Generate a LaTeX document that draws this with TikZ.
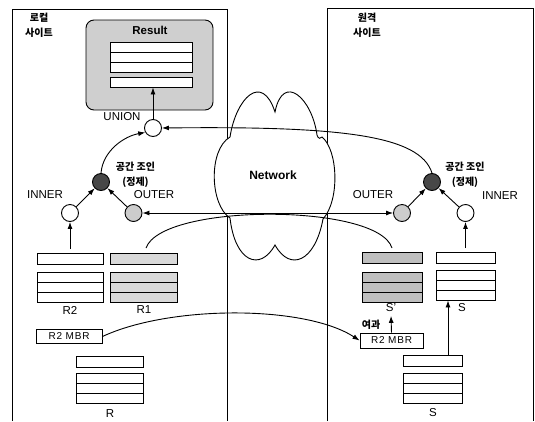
\documentclass[tikz,border=0pt]{standalone}
\usepackage{fontspec}
\setmainfont{Liberation Sans}
\newfontfamily\kr{Noto Sans CJK KR}
\usetikzlibrary{arrows.meta,calc}
\begin{document}
\begin{tikzpicture}[x=1pt,y=-1pt,line width=0.9pt,
  >={Latex[length=7pt,width=5pt]},
  every node/.style={font=\fontsize{11.5}{13}\selectfont},
  circ/.style={circle,draw,minimum size=17pt,inner sep=0pt,fill=white},
  darkc/.style={circ,fill=black!72},
  grayc/.style={circ,fill=gray!40},
  hdr/.style={draw,minimum height=11pt,inner sep=0pt,fill=white},
  blk/.style={draw,minimum height=30pt,inner sep=0pt,fill=white,
    path picture={
      \draw[line width=0.9pt]
        ($(path picture bounding box.north west)!1/3!(path picture bounding box.south west)$) --
        ($(path picture bounding box.north east)!1/3!(path picture bounding box.south east)$)
        ($(path picture bounding box.north west)!2/3!(path picture bounding box.south west)$) --
        ($(path picture bounding box.north east)!2/3!(path picture bounding box.south east)$);}},
  kor/.style={font=\kr\bfseries\fontsize{10}{15}\selectfont,align=center},
  mbr/.style={draw,fill=white,inner sep=0pt,minimum height=14pt,
    font=\fontsize{10}{12}\selectfont\addfontfeature{LetterSpace=8}},
  tlbl/.style={font=\fontsize{11.5}{13}\selectfont}
]
\useasboundingbox (0,0) rectangle (535,421);

% site frames
\draw (12,421) -- (12,9) -- (227,9) -- (227,421);
\draw (327,421) -- (327,8) -- (533,8) -- (533,421);
\node[kor] (ltitle) at (39,25) {로컬\\사이트};
\node[kor] (rtitle) at (367,25) {원격\\사이트};

% network cloud
\draw[fill=white] (230,137) .. controls (236,98) and (262,72) .. (275,112)
  .. controls (283,72) and (312,98) .. (317,135)
  .. controls (318,139) and (321,139) .. (322,137)
  .. controls (338,150) and (340,200) .. (323,219)
  .. controls (315,262) and (290,272) .. (275,245)
  .. controls (260,272) and (235,262) .. (230,218)
  .. controls (210,205) and (208,150) .. (230,137) -- cycle;
\node[font=\bfseries\fontsize{12}{14}\selectfont] (net) at (273,175) {Network};

% result box
\node[draw,rounded corners=8pt,fill=gray!38,minimum width=127pt,minimum height=90pt,inner sep=0pt] (resbox) at (149.5,65) {};
\node[font=\bfseries\fontsize{11.5}{13}\selectfont] (restitle) at (150,30) {Result};
\node[blk,minimum width=82pt] (res1) at (151,57) {};
\node[hdr,minimum width=82pt,minimum height=10pt] (res2) at (151,82) {};

% local circles
\node[circ] (union) at (153,128) {};
\node[darkc] (ljoin) at (101,182) {};
\node[circ] (linner) at (70,213) {};
\node[grayc] (louter) at (133.5,213) {};
\node (lunion) at (122,117) {UNION};
\node (linl) at (45,195) {INNER};
\node (loutl) at (154,195) {OUTER};
\node[kor] (ljl) at (135.5,175) {공간 조인\\(정제)};

% remote circles
\node[darkc] (rjoin) at (432,182) {};
\node[grayc] (router) at (402,213) {};
\node[circ] (rinner) at (465.5,213) {};
\node (routl) at (373,195) {OUTER};
\node (rinl) at (500,196) {INNER};
\node[kor] (rjl) at (465,175) {공간 조인\\(정제)};

% local tables
\node[hdr,minimum width=66pt] (r2h) at (70,258.5) {};
\node[blk,minimum width=66pt] (r2b) at (70,287) {};
\node[tlbl] (r2l) at (70,310) {R2};
\node[hdr,minimum width=67pt,fill=gray!30] (r1h) at (143.5,258.5) {};
\node[blk,minimum width=67pt,fill=gray!30] (r1b) at (143.5,287) {};
\node[tlbl] (r1l) at (144,310) {R1};
\node[mbr,minimum width=66pt] (lmbr) at (69,336.5) {R2 MBR};
\node[hdr,minimum width=67pt] (rh) at (109.5,362) {};
\node[blk,minimum width=67pt] (rb) at (109.5,388) {};
\node[tlbl] (rl) at (110,414) {R};

% remote tables
\node[hdr,minimum width=60pt,fill=gray!50] (sph) at (392,258) {};
\node[blk,minimum width=60pt,fill=gray!50] (spb) at (392,287) {};
\node[tlbl] (spl) at (391,308) {S'};
\node[hdr,minimum width=59pt] (smh) at (465.5,258) {};
\node[blk,minimum width=59pt] (smb) at (465.5,285) {};
\node[tlbl] (sml) at (462,308) {S};
\node[mbr,minimum width=63pt,minimum height=15pt] (rmbr) at (391.5,340.5) {R2 MBR};
\node[kor] (yeogwa) at (371,325) {여과};
\node[hdr,minimum width=59pt] (sbh) at (432.5,360.5) {};
\node[blk,minimum width=59pt] (sbb) at (432.5,388) {};
\node[tlbl] (sbl) at (433,413) {S};

% helper coordinates
\coordinate (r2top) at (70,249);
\coordinate (r1top) at (146,248);
\coordinate (sptop) at (392,248);
\coordinate (smtop) at (465.5,248);
\coordinate (sarr) at (448,355);

% connectors
\draw[->] (union.north) -- (union.north |- res2.south);
\draw[->] (ljoin.north) .. controls (103,150) and (125,136) .. (union.210);
\draw[->] (rjoin.north) .. controls (420,135) and (340,126) .. (union.east);
\draw[->] (linner) -- (ljoin);
\draw[->] (louter) -- (ljoin);
\draw[->] (router) -- (rjoin);
\draw[->] (rinner) -- (rjoin);
\draw[<->] (louter) -- (router);
\draw (r1top) .. controls (162,203) and (378,203) .. (sptop);
\draw[->] (r2top) -- (linner.south);
\draw[->] (smtop) -- (rinner.south);
\draw[->] (lmbr.east) .. controls (170,305) and (305,305) .. (rmbr.west);
\draw[->] (rmbr.north) -- (spl.south);
\draw[->] (sarr) -- (sarr |- smb.south);
\end{tikzpicture}
\end{document}
